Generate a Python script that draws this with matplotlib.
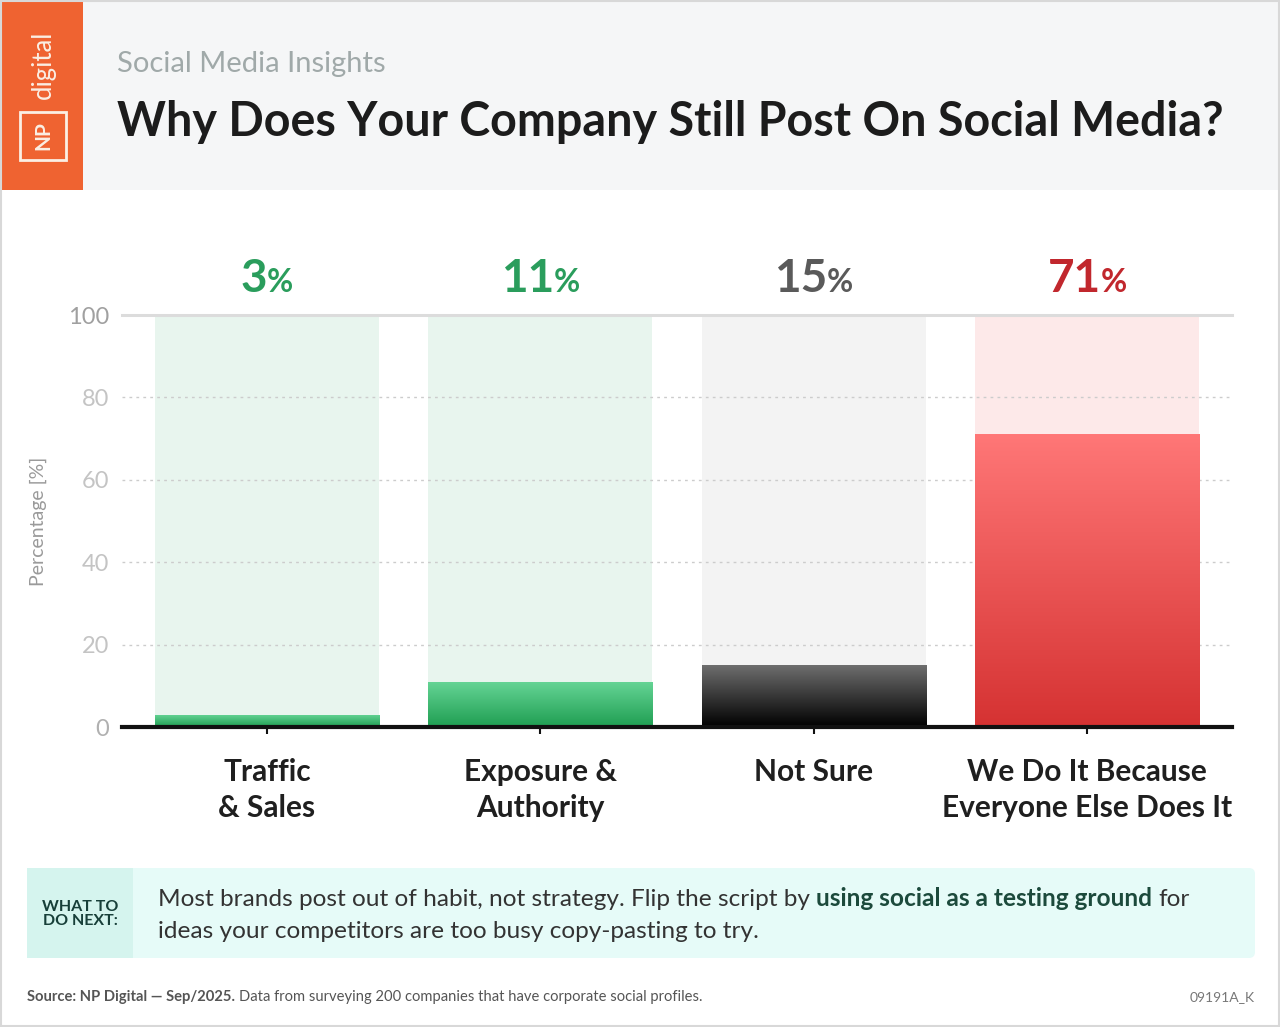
import numpy as np
import matplotlib
matplotlib.use('Agg')
import matplotlib.pyplot as plt
from matplotlib.patches import Rectangle, FancyBboxPatch
from matplotlib.transforms import Affine2D
from matplotlib.colors import to_rgb

# data
categories = ['Traffic\n& Sales', 'Exposure &\nAuthority', 'Not Sure',
              'We Do It Because\nEveryone Else Does It']
values = [3, 11, 15, 71]
value_text = ['3', '11', '15', '71']
label_colors = ['#2a9d5c', '#2a9d5c', '#5a5a5a', '#c1272d']
bg_colors = ['#e8f5ee', '#e8f5ee', '#f3f3f3', '#fde9e9']
grad_top = ['#66d596', '#66d596', '#6e6e6e', '#ff7777']
grad_bottom = ['#1f9e52', '#1f9e52', '#000000', '#d53232']
yticks = [0, 20, 40, 60, 80, 100]

W, H = 1280, 1027
plt.rcParams['font.family'] = ['Lato', 'DejaVu Sans']
fig = plt.figure(figsize=(W / 100, H / 100), dpi=100)
fig.patch.set_facecolor('white')
# pixel coords, y pointing down
px = Affine2D().scale(1 / W, -1 / H).translate(0, 1) + fig.transFigure
r = fig.canvas.get_renderer()


def rect(x, y, w, h, **kw):
    p = Rectangle((x, y), w, h, transform=px, **kw)
    fig.patches.append(p)
    return p


def width_of(s, **kw):
    t = fig.text(0, 0, s, **kw)
    w = t.get_window_extent(r).width
    t.remove()
    return w


def seg_text(x, y, parts, ha='left'):
    # parts: (string, weight, color, size); spaces handled explicitly
    objs = []
    cx = 0
    for s, wt, c, sz in parts:
        lead = len(s) - len(s.lstrip(' '))
        kw = dict(fontsize=sz, weight=wt)
        sp = width_of('x x', **kw) - width_of('xx', **kw)
        cx += lead * sp
        core = s.strip(' ')
        t = fig.text(x + cx, y, core, transform=px, color=c, va='baseline',
                     ha='left', **kw)
        cx += t.get_window_extent(r).width
        trail = len(s) - len(s.rstrip(' '))
        cx += trail * sp
        objs.append(t)
    if ha == 'center':
        for t in objs:
            tx, ty = t.get_position()
            t.set_position((tx - cx / 2, ty))
    return objs, cx


def fit_parts(x, y, parts, target):
    # scale font size so the whole line is `target` px wide
    objs, w = seg_text(x, y, parts)
    for t in objs:
        t.remove()
    k = target / w
    return seg_text(x, y, [(s, wt, c, sz * k) for s, wt, c, sz in parts])


# header
rect(83, 0, W - 83, 190, facecolor='#f5f6f7', edgecolor='none')
rect(0, 0, 83, 190, facecolor='#ef6331', edgecolor='none')
cream = '#fbefe4'
fig.text(43, 65, 'digital', transform=px, rotation=90, ha='center', va='center',
         fontsize=18.5, color=cream)
fig.text(43, 136, 'NP', transform=px, rotation=90, ha='center', va='center',
         fontsize=15, weight='bold', color=cream)
rect(20, 112, 46, 48, facecolor='none', edgecolor=cream, lw=2)

fig.text(117, 72, 'Social Media Insights', transform=px, fontsize=21,
         color='#a0a9a9', va='baseline')
fit_parts(117, 136, [('Why Does Your Company Still Post On Social Media?',
                      'bold', '#1c1c1c', 36)], 1105)

# chart
ax = fig.add_axes([122 / W, (H - 727) / H, (1232 - 122) / W, (727 - 315) / H])
ax.set_facecolor('none')
x = np.arange(len(values))
bw = 0.82
ax.bar(x, [100] * len(values), width=bw, color=bg_colors, zorder=1)
for yv in yticks[1:-1]:
    ax.axhline(yv, color='#cccccc', lw=1, ls=(0, (2, 3)), zorder=1.5)
ax.axhline(100, color='#dcdcdc', lw=2.2, zorder=1.5, clip_on=False)

for i, v in enumerate(values):
    bar = ax.bar(x[i], v, width=bw, color='none', zorder=2)[0]
    c0 = np.array(to_rgb(grad_top[i]))
    c1 = np.array(to_rgb(grad_bottom[i]))
    tt = np.linspace(0, 1, 256)[:, None]
    grad = (c0 * (1 - tt) + c1 * tt)[:, None, :]
    im = ax.imshow(grad, extent=[x[i] - bw / 2, x[i] + bw / 2, 0, v],
                   aspect='auto', zorder=2, interpolation='bilinear')
    im.set_clip_path(bar)

ax.axhline(0, color='#111111', lw=3, zorder=3, clip_on=False)
ax.set_xlim(-0.53, 3.53)
ax.set_ylim(0, 100)
for s in ax.spines.values():
    s.set_visible(False)
ax.set_yticks(yticks)
ax.set_yticklabels([str(v) for v in yticks], fontsize=17)
for lab in ax.get_yticklabels():
    lab.set_color('#c4c4c4')
ax.get_yticklabels()[-1].set_color('#a0a0a0')
ax.get_yticklabels()[0].set_color('#b0b0b0')
ax.tick_params(axis='y', length=0, pad=9)
ax.set_xticks(x)
ax.set_xticklabels(categories, fontsize=21.5, weight='bold', color='#1f1f1f',
                   linespacing=1.38)
ax.tick_params(axis='x', length=5, width=1.5, color='#111111', pad=17)

fig.text(38, 521, 'Percentage [%]', transform=px, rotation=90, ha='center',
         va='center', fontsize=14, color='#9a9a9a')

# value labels above bars
for i in range(len(values)):
    cx_px = ax.transData.transform((x[i], 0))[0]
    seg_text(cx_px, 292, [(value_text[i], 'bold', label_colors[i], 33),
                          ('%', 'bold', label_colors[i], 23)], ha='center')

# callout
box = FancyBboxPatch((27, 868), 1228, 90, boxstyle='round,pad=0,rounding_size=6',
                     transform=px, facecolor='#e6fbf8', edgecolor='none')
fig.patches.append(box)
rect(27, 868, 106, 90, facecolor='#d5f4ee', edgecolor='none')
fig.text(80, 914, 'WHAT TO\nDO NEXT:', transform=px, ha='center', va='center',
         fontsize=11.5, weight='bold', color='#173f39', linespacing=1.0)
body = '#333333'
objs, _ = fit_parts(158, 906,
                    [('Most brands post out of habit, not strategy. Flip the script by ',
                      'normal', body, 17),
                     ('using social as a testing ground', 'bold', '#1c4a3c', 17),
                     (' for', 'normal', body, 17)], 1030)
body_size = objs[0].get_fontsize()
seg_text(158, 938, [('ideas your competitors are too busy copy-pasting to try.',
                     'normal', body, body_size)])

# footer
fit_parts(27, 1001, [('Source: NP Digital \u2014 Sep/2025.', 'bold', '#555555', 10),
                     (' Data from surveying 200 companies that have corporate social profiles.',
                      'normal', '#555555', 10)], 673)
fig.text(1255, 1001, '09191A_K', transform=px, ha='right', va='baseline',
         fontsize=10, color='#777777')

rect(1, 1, W - 2, H - 2, facecolor='none', edgecolor='#d8d8d8', lw=1.5)

fig.savefig('out.png', dpi=100)
